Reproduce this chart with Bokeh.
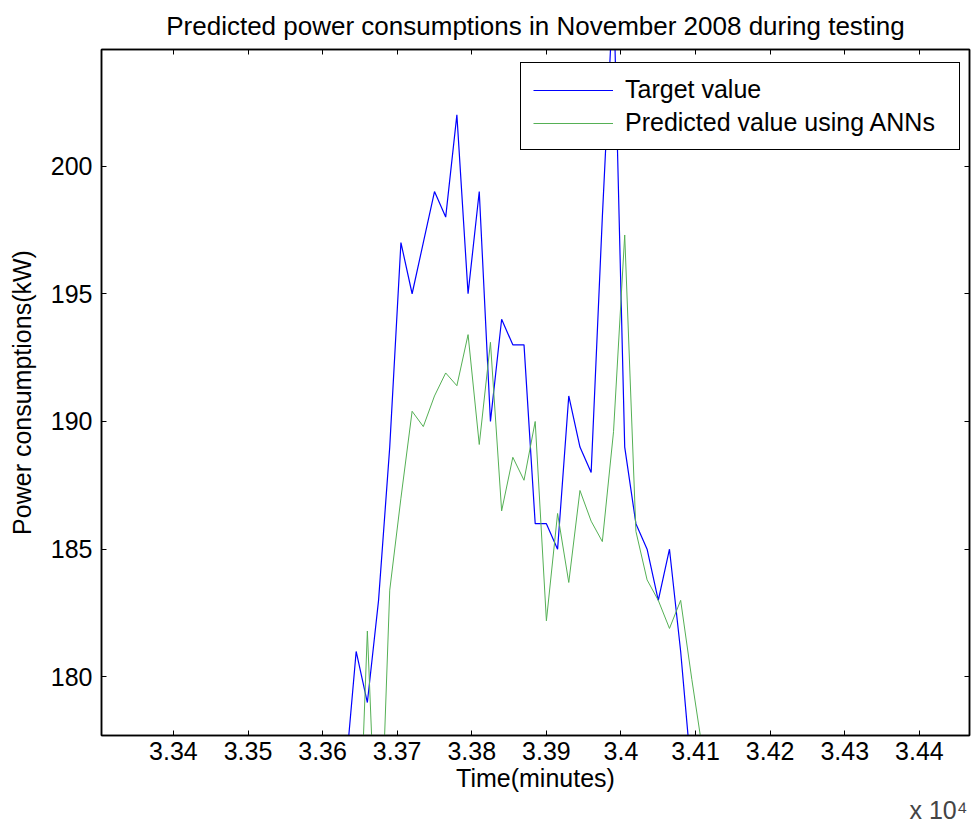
from bokeh.plotting import figure
from bokeh.models import Range1d, LinearAxis, FixedTicker, Label, Legend, LegendItem
from bokeh.embed import file_html
from bokeh.resources import INLINE

# ---- data ----
time_minutes = [33615, 33630, 33645, 33660, 33675, 33690, 33705, 33720, 33735, 33750,
                33765, 33780, 33795, 33810, 33825, 33840, 33855, 33870, 33885, 33900,
                33915, 33930, 33945, 33960, 33975, 33990, 34005, 34020, 34035, 34050,
                34065, 34080, 34095, 34110, 34125]
target_kw = [171, 176, 181, 179, 183, 189, 197, 195, 197, 199,
             198, 202, 195, 199, 190, 194, 193, 193, 186, 186,
             185, 191, 189, 188, 198, 207, 189, 186, 185, 183,
             185, 181, 176, 173, 170]
predicted_kw = [168, 169, 170, 181.8, 171, 183.4, 187, 190.4, 189.8, 191.0,
                191.9, 191.4, 193.4, 189.1, 193.1, 186.5, 188.6, 187.7, 190.0, 182.2,
                186.4, 183.7, 187.3, 186.1, 185.3, 189.6, 197.3, 185.7, 183.8, 183.0,
                181.9, 183.0, 179.9, 177.0, 175.0]

x_ticks = [33400, 33500, 33600, 33700, 33800, 33900, 34000, 34100, 34200, 34300, 34400]
x_tick_labels = ["3.34", "3.35", "3.36", "3.37", "3.38", "3.39", "3.4", "3.41", "3.42", "3.43", "3.44"]
y_ticks = [180, 185, 190, 195, 200]

title_text = "Predicted power consumptions in November 2008 during testing"
x_label = "Time(minutes)"
y_label = "Power consumptions(kW)"
series_names = ["Target value", "Predicted value using ANNs"]
exponent_text = "x 10\u2074"

FONT = "Liberation Sans"
FS = "25px"

p = figure(width=974, height=822, output_backend="svg", toolbar_location=None,
           x_range=Range1d(33303.6, 34467.2), y_range=Range1d(177.71, 204.56),
           min_border_left=101, min_border_right=5, min_border_top=49, min_border_bottom=87,
           background_fill_color="white", border_fill_color="white")

p.title.text = title_text
p.title.text_font = FONT
p.title.text_font_size = "26px"
p.title.text_font_style = "normal"
p.title.text_color = "black"
p.title.align = "center"
p.title.standoff = 17

p.grid.visible = False
p.outline_line_color = "black"
p.outline_line_width = 1.5

def style_axis(ax, show_labels):
    ax.axis_line_color = "black"
    ax.axis_line_width = 1.5
    ax.major_tick_in = 5
    ax.major_tick_out = 0
    ax.major_tick_line_color = "black"
    ax.minor_tick_line_color = None
    ax.major_label_text_font = FONT
    ax.major_label_text_font_size = FS
    ax.major_label_text_color = "black"
    ax.axis_label_text_font = FONT
    ax.axis_label_text_font_size = FS
    ax.axis_label_text_font_style = "normal"
    ax.axis_label_text_color = "black"
    if not show_labels:
        ax.major_label_standoff = 0

xax = p.xaxis[0]
xax.ticker = FixedTicker(ticks=x_ticks)
xax.major_label_overrides = {t: s for t, s in zip(x_ticks, x_tick_labels)}
xax.axis_label = x_label
xax.major_label_standoff = 6
xax.axis_label_standoff = 1
style_axis(xax, True)

yax = p.yaxis[0]
yax.ticker = FixedTicker(ticks=y_ticks)
yax.axis_label = y_label
yax.major_label_standoff = 9
yax.axis_label_standoff = 12
style_axis(yax, True)

top_ax = LinearAxis(ticker=FixedTicker(ticks=x_ticks),
                    major_label_overrides={t: "" for t in x_ticks})
style_axis(top_ax, False)
p.add_layout(top_ax, "above")
right_ax = LinearAxis(ticker=FixedTicker(ticks=y_ticks),
                      major_label_overrides={t: "" for t in y_ticks})
style_axis(right_ax, False)
p.add_layout(right_ax, "right")

r_target = p.line(time_minutes, target_kw, line_color="#0000ff", line_width=1.2)
r_pred = p.line(time_minutes, predicted_kw, line_color="#55b055", line_width=1.0)

legend = Legend(items=[LegendItem(label=series_names[0], renderers=[r_target]),
                       LegendItem(label=series_names[1], renderers=[r_pred])],
                location=(419, 585), orientation="vertical",
                label_text_font=FONT, label_text_font_size=FS, label_text_color="black",
                glyph_width=80, glyph_height=20, label_standoff=12, label_width=322,
                padding=12, spacing=4, margin=0,
                border_line_color="black", border_line_width=1.5, border_line_alpha=1.0,
                background_fill_color="white", background_fill_alpha=1.0)
p.add_layout(legend)

p.add_layout(Label(x=808, y=13, x_units="screen", y_units="screen", text=exponent_text,
                   text_font=FONT, text_font_size=FS, text_baseline="alphabetic"), "below")

open("out.html", "w").write(file_html(p, INLINE))
